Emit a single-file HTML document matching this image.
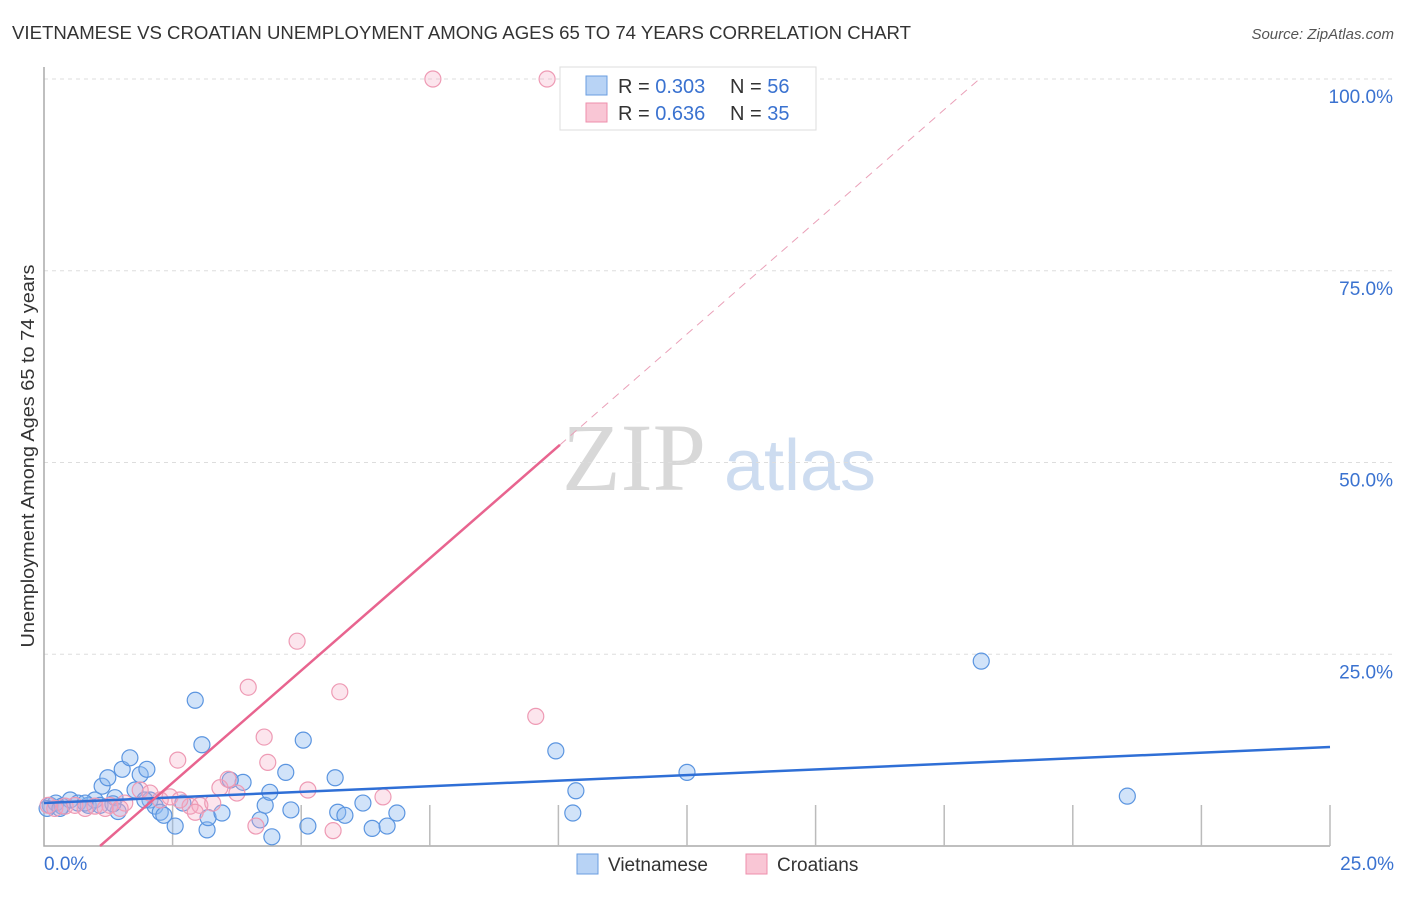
<!DOCTYPE html>
<html><head><meta charset="utf-8"><style>
body{margin:0;background:#fff;font-family:"Liberation Sans",sans-serif}
</style></head><body>
<svg width="1406" height="892" xmlns="http://www.w3.org/2000/svg" font-family="Liberation Sans, sans-serif">
<text x="12" y="39" font-size="18" fill="#333" textLength="899" lengthAdjust="spacingAndGlyphs">VIETNAMESE VS CROATIAN UNEMPLOYMENT AMONG AGES 65 TO 74 YEARS CORRELATION CHART</text>
<text x="1394" y="39" font-size="15" fill="#555" font-style="italic" text-anchor="end">Source: ZipAtlas.com</text>
<text x="634" y="490" font-size="96" fill="#d8d8d8" font-family="Liberation Serif, serif" text-anchor="middle">ZIP</text>
<text x="800" y="490" font-size="72" fill="#cddcf0" text-anchor="middle">atlas</text>
<g id="grid"></g><g id="axes"></g><g id="marks"></g>
<text transform="translate(34,456) rotate(-90)" font-size="18" fill="#333" text-anchor="middle" textLength="383" lengthAdjust="spacingAndGlyphs">Unemployment Among Ages 65 to 74 years</text>
<g>
<rect x="560" y="67" width="256" height="63" fill="#fff" stroke="#ddd"/>
<rect x="586" y="76" width="21" height="19" fill="#b8d3f5" stroke="#6a9ee0"/>
<rect x="586" y="103" width="21" height="19" fill="#f9c6d5" stroke="#ee8fac"/>
<text x="618" y="93" font-size="20" fill="#333">R = <tspan fill="#3a72d0">0.303</tspan></text>
<text x="730" y="93" font-size="20" fill="#333">N = <tspan fill="#3a72d0">56</tspan></text>
<text x="618" y="120" font-size="20" fill="#333">R = <tspan fill="#3a72d0">0.636</tspan></text>
<text x="730" y="120" font-size="20" fill="#333">N = <tspan fill="#3a72d0">35</tspan></text>
</g>
<g>
<rect x="577" y="854" width="21" height="20" fill="#b8d3f5" stroke="#6a9ee0"/>
<text x="608" y="871" font-size="19" fill="#333">Vietnamese</text>
<rect x="746" y="854" width="21" height="20" fill="#f9c6d5" stroke="#ee8fac"/>
<text x="777" y="871" font-size="19" fill="#333">Croatians</text>
</g>
</svg>
<script>
const yTicks=[0,25,50,75,100];
const yTickLabels=["","25.0%","50.0%","75.0%","100.0%"];
const blueX=[0.12,0.23,0.35,0.51,0.66,0.86,0.99,1.13,1.24,1.38,1.44,1.52,1.67,1.87,2.0,2.06,2.16,2.26,2.33,2.55,2.7,2.94,3.07,3.17,3.19,3.46,3.87,4.2,4.3,4.39,4.43,4.7,4.8,5.04,5.13,5.66,5.71,5.85,6.2,6.38,6.67,6.86,9.95,10.34,10.28,12.5,18.22,21.06,0.06,0.31,0.8,1.09,1.77,1.96,1.34,3.62];
const blueY=[5.3,5.6,5.2,6.0,5.6,5.3,6.0,7.8,8.9,6.3,4.5,10.0,11.5,9.3,10.0,6.0,5.2,4.4,4.0,2.6,5.6,19.0,13.2,2.1,3.7,4.3,8.3,3.4,5.3,7.0,1.2,9.6,4.7,13.8,2.6,8.9,4.4,4.0,5.6,2.3,2.6,4.3,12.4,7.2,4.3,9.6,24.1,6.5,4.9,4.9,5.6,5.3,7.3,6.0,5.5,8.6];
const pinkX=[0.08,0.21,0.41,0.6,0.8,0.99,1.28,1.57,1.87,2.06,2.26,2.45,2.6,2.84,3.03,3.28,3.42,3.58,3.75,3.97,4.12,4.28,4.35,4.92,5.13,5.62,5.75,6.59,7.56,9.78,9.56,1.48,2.64,2.94,1.19];
const pinkY=[5.3,4.9,5.2,5.3,4.9,5.2,5.3,5.6,7.3,6.9,6.0,6.4,11.2,5.2,5.3,5.6,7.6,8.7,6.9,20.7,2.6,14.2,10.9,26.7,7.3,2.0,20.1,6.4,100,100,16.9,4.9,6.0,4.4,4.9];
const blueTrend=[5.6,12.9];
const pinkTrend=[1.09,5.85];
const X=v=>44+v*51.44, Y=v=>846-v*7.67;
const NS="http://www.w3.org/2000/svg";
function mk(tag,attrs,parent){const e=document.createElementNS(NS,tag);for(const k in attrs)e.setAttribute(k,attrs[k]);document.getElementById(parent).appendChild(e);return e;}
yTicks.forEach((t,i)=>{
 if(t>0){const l=mk('line',{x1:44,x2:1394,y1:Y(t),y2:Y(t),stroke:'#ddd','stroke-dasharray':'4,4'},'grid');
 
 
 const tx=mk('text',{x:1393,y:Y(t)+24,'font-size':19,fill:'#3a72d0','text-anchor':'end'},'grid');tx.textContent=yTickLabels[i];
 
 }
});
const ax=mk('path',{d:'M44,67V846H1330',stroke:'#aaa',fill:'none','stroke-width':1.5},'axes');


for(let i=1;i<=10;i++){const t=mk('line',{x1:X(i*2.5),x2:X(i*2.5),y1:805,y2:846,stroke:'#bbb','stroke-width':1.5},'axes');
 
 }
[["0.0%",44,'start'],["25.0%",1394,'end']].forEach(a=>{const t=mk('text',{x:a[1],y:870,'font-size':19,fill:'#3a72d0','text-anchor':a[2]},'axes');t.textContent=a[0];
 
 });
blueX.forEach((x,i)=>{const c=mk('circle',{cx:X(x),cy:Y(blueY[i]),r:8,fill:'rgba(140,185,240,0.4)',stroke:'#5b95e0','stroke-width':1.2},'marks');
 
 });
pinkX.forEach((x,i)=>{const c=mk('circle',{cx:X(x),cy:Y(pinkY[i]),r:8,fill:'rgba(245,170,195,0.3)',stroke:'#ee9ab4','stroke-width':1.2},'marks');
 
 });
const bl=mk('line',{x1:X(0),y1:Y(blueTrend[0]),x2:X(25),y2:Y(blueTrend[1]),stroke:'#2f6fd6','stroke-width':2.5},'marks');


const px=y=>pinkTrend[0]+y/pinkTrend[1];
const pl=mk('line',{x1:X(px(0)),y1:Y(0),x2:X(px(52.3)),y2:Y(52.3),stroke:'#e8648f','stroke-width':2.5},'marks');


const pd=mk('line',{x1:X(px(52.3)),y1:Y(52.3),x2:X(px(100)),y2:Y(100),stroke:'#eaa0b8','stroke-width':1,'stroke-dasharray':'8,6'},'marks');


</script>
</body></html>
